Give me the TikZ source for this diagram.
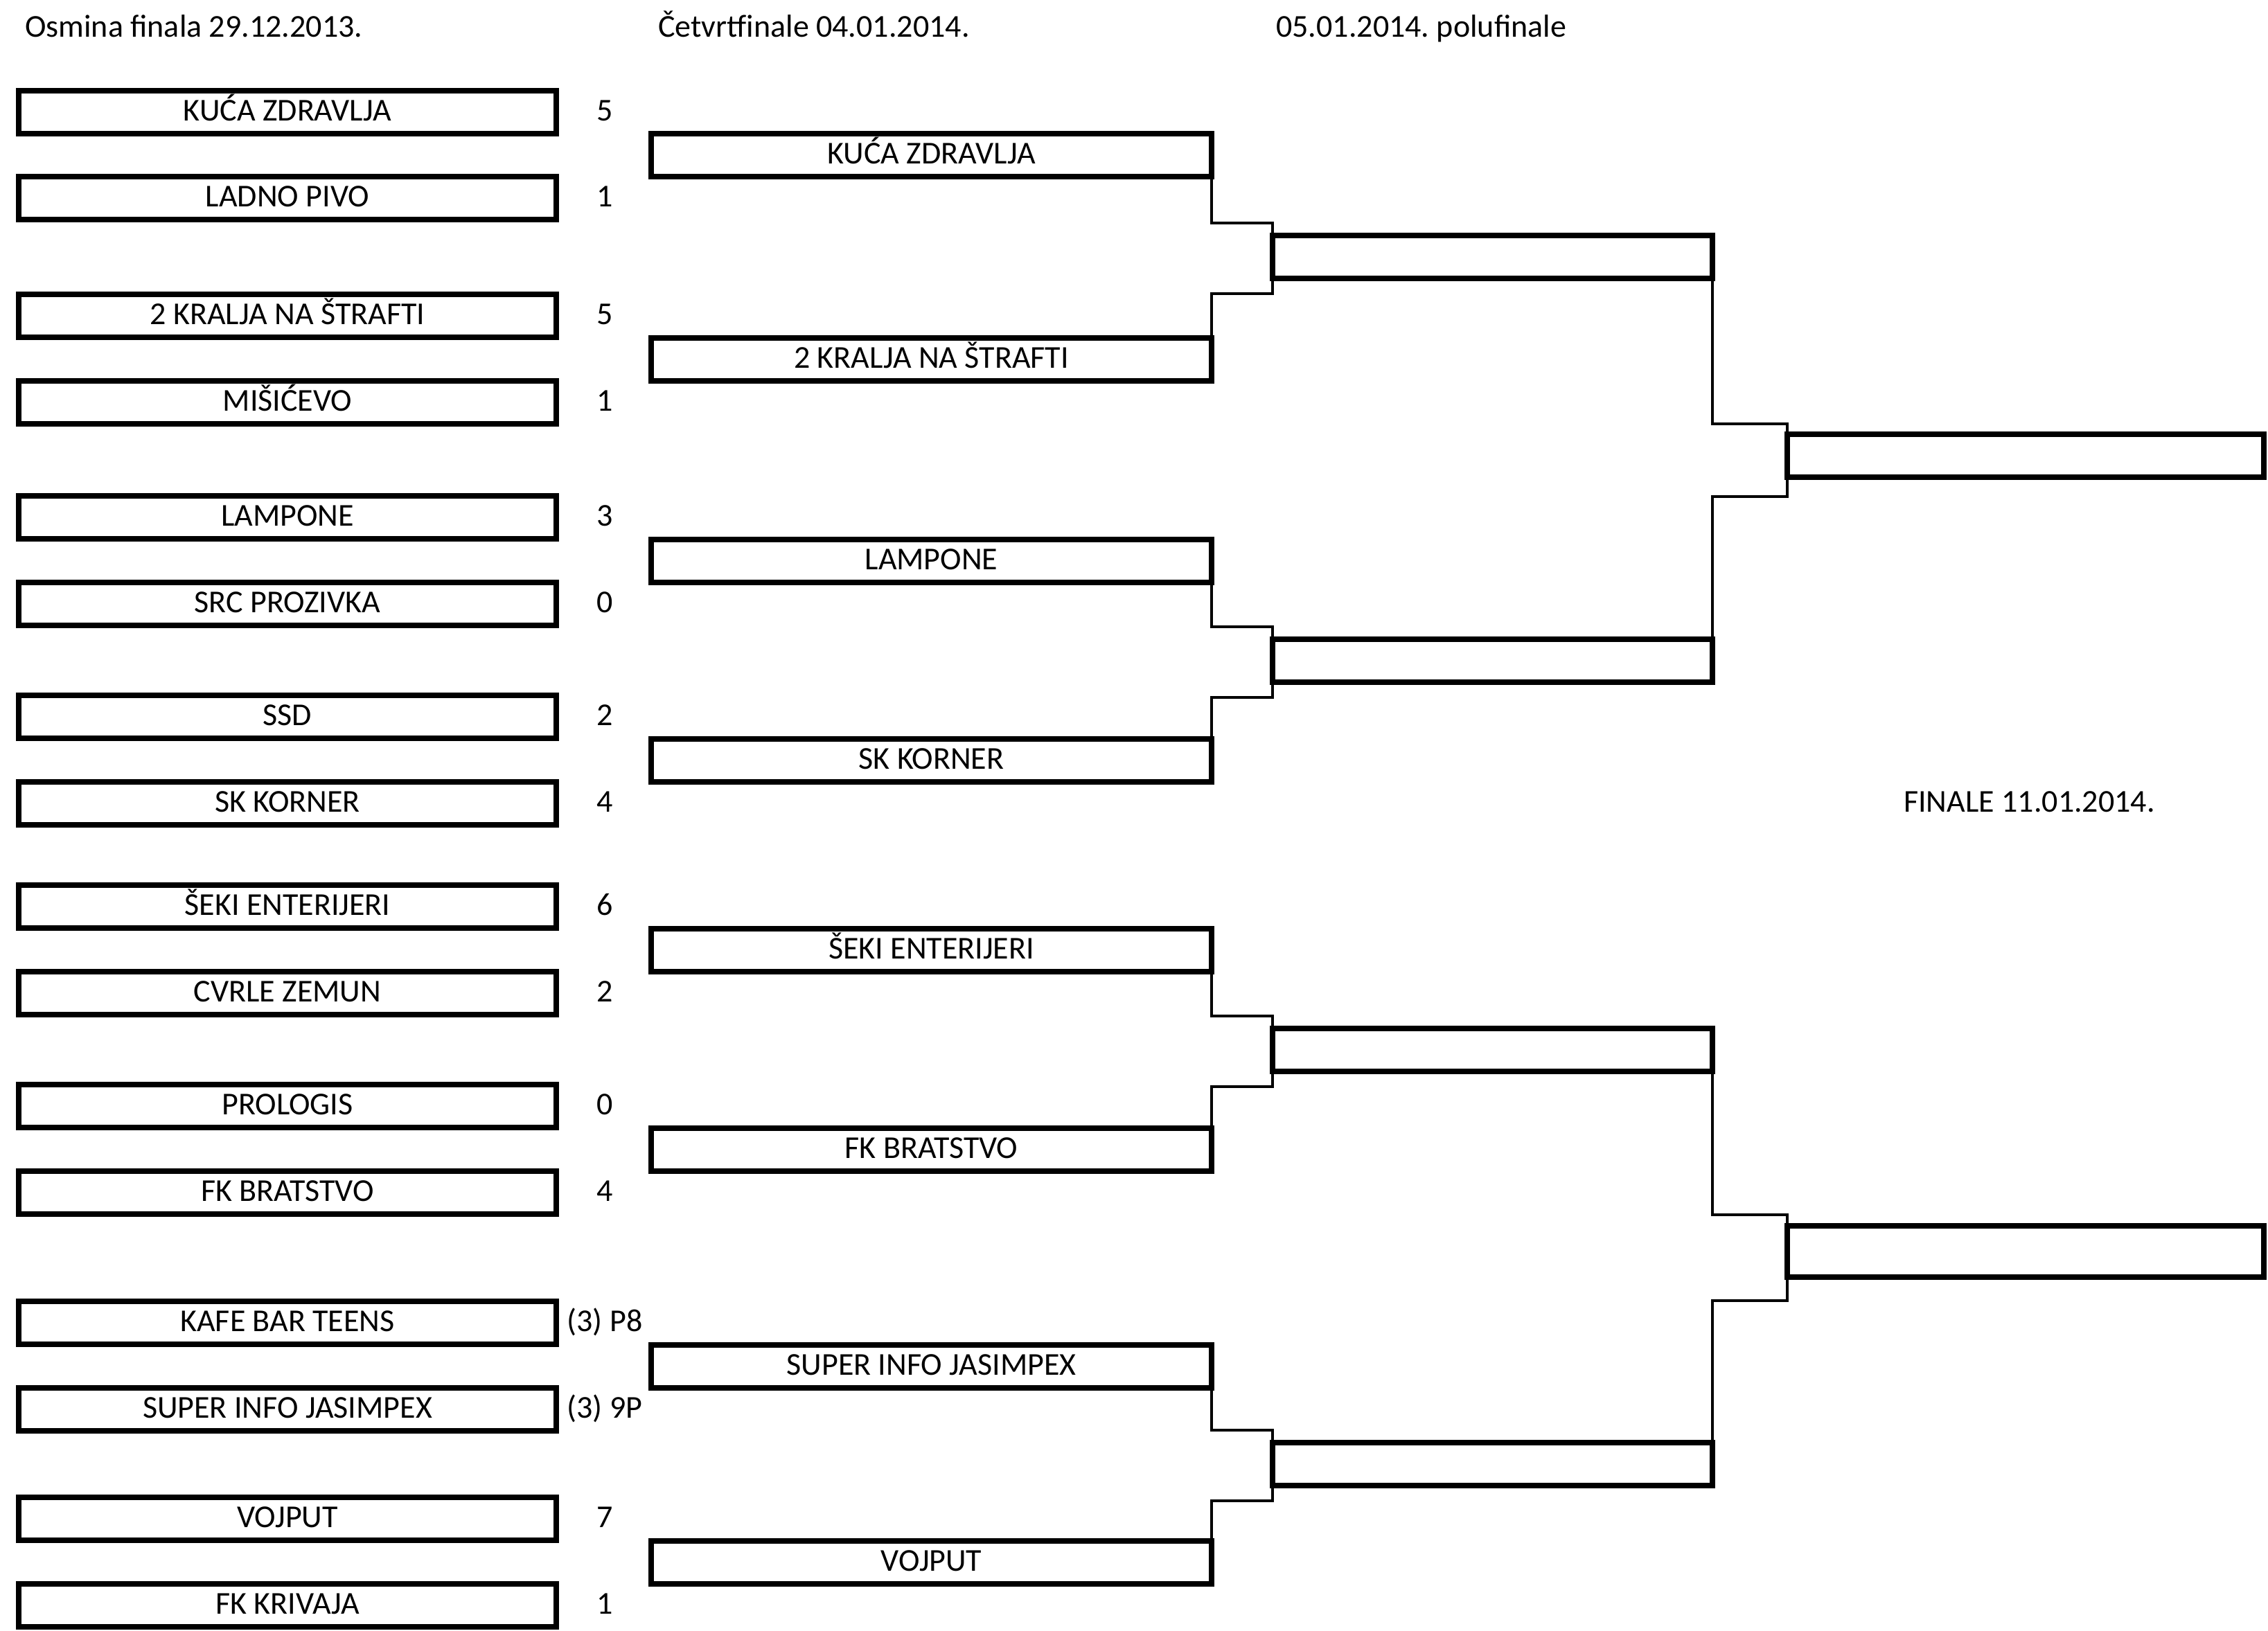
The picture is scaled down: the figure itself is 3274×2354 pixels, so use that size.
\documentclass[tikz,border=0pt]{standalone}
\usepackage{fontspec}
\setmainfont{Carlito}
\usetikzlibrary{calc,positioning}
\frenchspacing

\tikzset{
  team/.style={draw=black, line width=8pt, inner sep=0pt, outer sep=0pt, minimum height=62pt, text height=29pt, text depth=4pt, font=\fontsize{46}{55}\selectfont},
  osmina/.style={team, minimum width=776pt},
  cetvrt/.style={team, minimum width=809pt},
  polu/.style={team, minimum width=635pt},
  fin/.style={team, minimum width=688pt},
  rez/.style={inner sep=0pt, text height=29pt, text depth=4pt, font=\fontsize{46}{55}\selectfont},
  naslov/.style={anchor=base west, inner sep=0pt, font=\fontsize{46}{55}\selectfont},
  veza/.style={draw=black, line width=4pt}
}

\begin{document}
\begin{tikzpicture}[x=1pt, y=-1pt]
  \useasboundingbox (0,0) rectangle (3274,2354);

  % naslovi
  \node[naslov] (t1) at (36,53) {Osmina finala 29.12.2013.};
  \node[naslov] (t2) at (950,53) {Četvrtfinale 04.01.2014.};
  \node[naslov] (t3) at (1842,53) {05.01.2014. polufinale};
  \node[naslov] (t4) at (2748,1172) {FINALE 11.01.2014.};

  % osmina finala
  \node[osmina] (o1) at (415,162) {KUĆA ZDRAVLJA};
  \node[osmina] (o2) at (415,286) {LADNO PIVO};
  \node[osmina] (o3) at (415,456) {2 KRALJA NA ŠTRAFTI};
  \node[osmina] (o4) at (415,581) {MIŠIĆEVO};
  \node[osmina] (o5) at (415,747) {LAMPONE};
  \node[osmina] (o6) at (415,872) {SRC PROZIVKA};
  \node[osmina] (o7) at (415,1035) {SSD};
  \node[osmina] (o8) at (415,1160) {SK KORNER};
  \node[osmina] (o9) at (415,1309) {ŠEKI ENTERIJERI};
  \node[osmina] (o10) at (415,1434) {CVRLE ZEMUN};
  \node[osmina] (o11) at (415,1597) {PROLOGIS};
  \node[osmina] (o12) at (415,1722) {FK BRATSTVO};
  \node[osmina] (o13) at (415,1910) {KAFE BAR TEENS};
  \node[osmina] (o14) at (415,2035) {SUPER INFO JASIMPEX};
  \node[osmina] (o15) at (415,2193) {VOJPUT};
  \node[osmina] (o16) at (415,2318) {FK KRIVAJA};

  \node[rez] (rez1) at ($(o1.east)+(70,0)$) {5};
  \node[rez] (rez2) at ($(o2.east)+(70,0)$) {1};
  \node[rez] (rez3) at ($(o3.east)+(70,0)$) {5};
  \node[rez] (rez4) at ($(o4.east)+(70,0)$) {1};
  \node[rez] (rez5) at ($(o5.east)+(70,0)$) {3};
  \node[rez] (rez6) at ($(o6.east)+(70,0)$) {0};
  \node[rez] (rez7) at ($(o7.east)+(70,0)$) {2};
  \node[rez] (rez8) at ($(o8.east)+(70,0)$) {4};
  \node[rez] (rez9) at ($(o9.east)+(70,0)$) {6};
  \node[rez] (rez10) at ($(o10.east)+(70,0)$) {2};
  \node[rez] (rez11) at ($(o11.east)+(70,0)$) {0};
  \node[rez] (rez12) at ($(o12.east)+(70,0)$) {4};
  \node[rez] (rez13) at ($(o13.east)+(70,0)$) {(3) P8};
  \node[rez] (rez14) at ($(o14.east)+(70,0)$) {(3) 9P};
  \node[rez] (rez15) at ($(o15.east)+(70,0)$) {7};
  \node[rez] (rez16) at ($(o16.east)+(70,0)$) {1};

  % cetvrtfinale
  \node[cetvrt] (c1) at ($(o1)!0.5!(o2)+(929.5,0)$) {KUĆA ZDRAVLJA};
  \node[cetvrt] (c2) at ($(o3)!0.5!(o4)+(929.5,0)$) {2 KRALJA NA ŠTRAFTI};
  \node[cetvrt] (c3) at ($(o5)!0.5!(o6)+(929.5,0)$) {LAMPONE};
  \node[cetvrt] (c4) at ($(o7)!0.5!(o8)+(929.5,0)$) {SK KORNER};
  \node[cetvrt] (c5) at ($(o9)!0.5!(o10)+(929.5,0)$) {ŠEKI ENTERIJERI};
  \node[cetvrt] (c6) at ($(o11)!0.5!(o12)+(929.5,0)$) {FK BRATSTVO};
  \node[cetvrt] (c7) at ($(o13)!0.5!(o14)+(929.5,0)$) {SUPER INFO JASIMPEX};
  \node[cetvrt] (c8) at ($(o15)!0.5!(o16)+(929.5,0)$) {VOJPUT};

  % polufinale
  \node[polu] (p1) at ($(c1)!0.5!(c2)+(810,0)$) {};
  \node[polu] (p2) at ($(c3)!0.5!(c4)+(810,0)$) {};
  \node[polu] (p3) at ($(c5)!0.5!(c6)+(810,0)$) {};
  \node[polu] (p4) at ($(c7)!0.5!(c8)+(810,0)$) {};

  % finale
  \node[fin] (f1) at (2924,658) {};
  \node[fin, minimum height=74pt] (f2) at (2924,1807) {};

  \draw[veza] (c1.south east) |- ($(p1.north west)+(0,-18)$) -- (p1.north west);
  \draw[veza] (c2.north east) |- ($(p1.south west)+(0,22)$) -- (p1.south west);
  \draw[veza] (c3.south east) |- ($(p2.north west)+(0,-18)$) -- (p2.north west);
  \draw[veza] (c4.north east) |- ($(p2.south west)+(0,22)$) -- (p2.south west);
  \draw[veza] (c5.south east) |- ($(p3.north west)+(0,-18)$) -- (p3.north west);
  \draw[veza] (c6.north east) |- ($(p3.south west)+(0,22)$) -- (p3.south west);
  \draw[veza] (c7.south east) |- ($(p4.north west)+(0,-18)$) -- (p4.north west);
  \draw[veza] (c8.north east) |- ($(p4.south west)+(0,22)$) -- (p4.south west);

  \draw[veza] (p1.south east) |- ($(f1.north west)+(0,-15)$) -- (f1.north west);
  \draw[veza] (p2.north east) |- ($(f1.south west)+(0,28)$) -- (f1.south west);
  \draw[veza] (p3.south east) |- ($(f2.north west)+(0,-16)$) -- (f2.north west);
  \draw[veza] (p4.north east) |- ($(f2.south west)+(0,34)$) -- (f2.south west);

\end{tikzpicture}
\end{document}
